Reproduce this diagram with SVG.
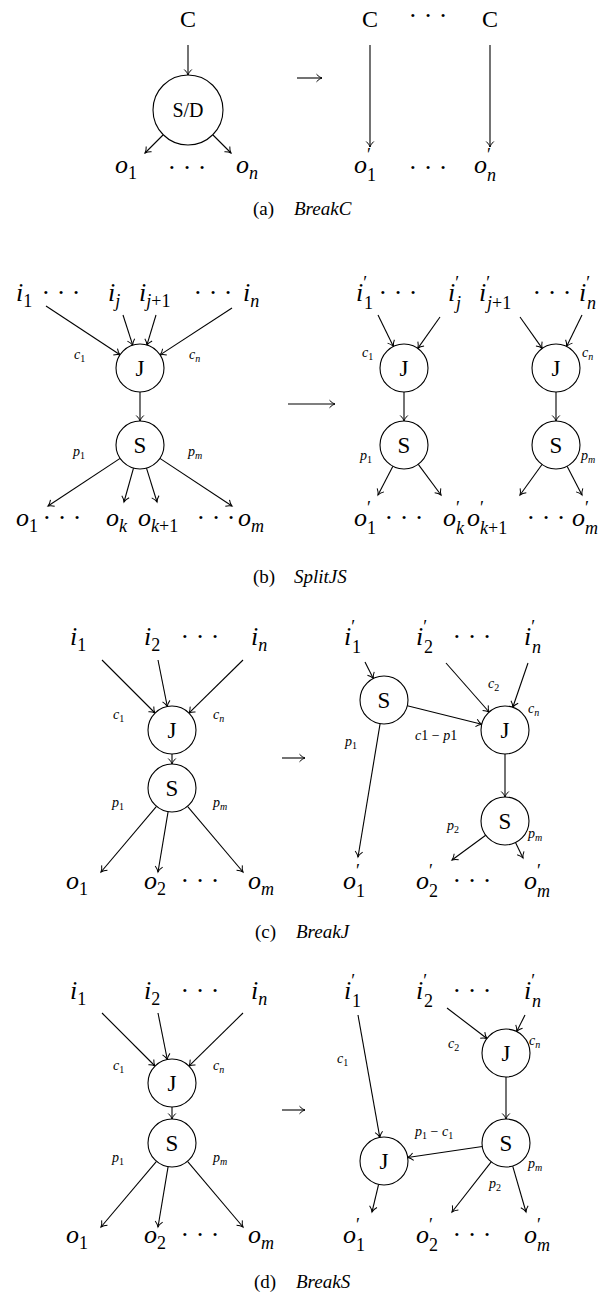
<svg xmlns="http://www.w3.org/2000/svg" width="609" height="1297" viewBox="0 0 609 1297" font-family="'Liberation Serif', serif">
<defs>
<marker id="ah" viewBox="-7 -5 9 10" markerWidth="9" markerHeight="10" refX="0" refY="0" orient="auto" markerUnits="userSpaceOnUse">
<path d="M-5.5,-3.8 C-3.5,-1.6 -1.5,-0.5 0,0 C-1.5,0.5 -3.5,1.6 -5.5,3.8" fill="none" stroke="#000" stroke-width="1"/>
</marker>
<style>
text{font-family:'Liberation Serif','Times New Roman',serif;fill:#000}
.m{font-style:italic;font-size:26px}
.sd{font-style:normal;font-size:18px}
.sl{font-style:italic;font-size:18px}
.pr{font-style:normal;font-size:18px}
.d{font-style:normal;font-size:26px;text-anchor:middle}
.r{font-size:24px;text-anchor:middle}
.n{font-size:23px;text-anchor:middle}
.s{font-style:italic;font-size:14px}
.ss{font-style:normal;font-size:10px}
.ssl{font-style:italic;font-size:10px}
.cap{font-size:19px}
.capi{font-style:italic}
circle{fill:#fff;stroke:#000;stroke-width:1.1}
#conn line{stroke:#000;stroke-width:1.1;fill:none;marker-end:url(#ah)}
</style>
</defs>
<rect width="609" height="1297" fill="#fff"/>

<g id="conn">
<line x1="188" y1="45" x2="188" y2="75"/>
<line x1="163" y1="135" x2="145" y2="153"/>
<line x1="213" y1="135" x2="231" y2="153"/>
<line x1="297" y1="78" x2="322" y2="78"/>
<line x1="370" y1="45" x2="370" y2="147"/>
<line x1="490" y1="45" x2="490" y2="147"/>
<line x1="46" y1="306" x2="120" y2="354.8"/>
<line x1="123" y1="315" x2="132.7" y2="345.2"/>
<line x1="156" y1="315" x2="146.9" y2="345.2"/>
<line x1="232" y1="308" x2="160.1" y2="354.9"/>
<line x1="140" y1="392" x2="140" y2="421"/>
<line x1="120.1" y1="458.4" x2="48" y2="506"/>
<line x1="133.5" y1="468.1" x2="124" y2="502"/>
<line x1="146.5" y1="468.1" x2="157" y2="502"/>
<line x1="159.9" y1="458.4" x2="232" y2="506"/>
<line x1="288" y1="404" x2="335" y2="404"/>
<line x1="378" y1="315" x2="393.4" y2="346.4"/>
<line x1="440" y1="317" x2="417.8" y2="348.4"/>
<line x1="520" y1="317" x2="542.2" y2="348.4"/>
<line x1="582" y1="315" x2="566.6" y2="346.4"/>
<line x1="404" y1="392" x2="404" y2="421"/>
<line x1="556" y1="392" x2="556" y2="421"/>
<line x1="392.9" y1="466.3" x2="378" y2="495"/>
<line x1="418.3" y1="464.3" x2="441" y2="495"/>
<line x1="542" y1="464.5" x2="520" y2="495"/>
<line x1="567.1" y1="466.3" x2="582" y2="495"/>
<line x1="102" y1="660" x2="155" y2="713"/>
<line x1="158" y1="660" x2="167.3" y2="706.5"/>
<line x1="243" y1="660" x2="188.9" y2="713.2"/>
<line x1="172" y1="754" x2="172" y2="764"/>
<line x1="156.5" y1="806.3" x2="101" y2="872"/>
<line x1="168.1" y1="811.7" x2="158" y2="872"/>
<line x1="187.5" y1="806.3" x2="243" y2="872"/>
<line x1="282" y1="758" x2="305" y2="758"/>
<line x1="365" y1="662" x2="373.3" y2="678.5"/>
<line x1="446" y1="663" x2="489.1" y2="712"/>
<line x1="528" y1="663" x2="512.8" y2="707.3"/>
<line x1="407.3" y1="705.8" x2="481.7" y2="724.2"/>
<line x1="380.1" y1="723.7" x2="358" y2="857"/>
<line x1="505" y1="754" x2="505" y2="797"/>
<line x1="485.7" y1="835.2" x2="452" y2="860"/>
<line x1="515.5" y1="842.6" x2="523" y2="858"/>
<line x1="102" y1="1013" x2="155" y2="1066"/>
<line x1="158" y1="1013" x2="167.3" y2="1059.5"/>
<line x1="243" y1="1013" x2="188.9" y2="1066.2"/>
<line x1="172" y1="1107" x2="172" y2="1119"/>
<line x1="156.5" y1="1161.3" x2="101" y2="1227"/>
<line x1="168.1" y1="1166.7" x2="158" y2="1227"/>
<line x1="187.5" y1="1161.3" x2="243" y2="1227"/>
<line x1="282" y1="1110" x2="305" y2="1110"/>
<line x1="358" y1="1015" x2="379.8" y2="1137.4"/>
<line x1="447" y1="1008" x2="486.9" y2="1038.5"/>
<line x1="525" y1="1015" x2="516.7" y2="1031.5"/>
<line x1="506" y1="1077" x2="506" y2="1119"/>
<line x1="482.3" y1="1146.5" x2="407.7" y2="1157.5"/>
<line x1="378.6" y1="1184.4" x2="372" y2="1212"/>
<line x1="491.2" y1="1161.9" x2="452" y2="1212"/>
<line x1="512.7" y1="1166.1" x2="526" y2="1212"/>
</g>

<g id="a-C"><text class="r" x="188" y="27">C</text></g>
<g id="a-SD"><circle cx="188" cy="110" r="35"/><text class="n" x="188" y="117" style="font-size:20px">S/D</text></g>
<g id="a-o1"><text class="m" x="115" y="173">o<tspan class="sd" dy="6">1</tspan></text></g>
<g id="a-dots1"><text class="d" x="187" y="176">· · ·</text></g>
<g id="a-on"><text class="m" x="236" y="173">o<tspan class="sl" dy="6">n</tspan></text></g>
<g id="a-C1"><text class="r" x="370" y="27">C</text></g>
<g id="a-dots2"><text class="d" x="428" y="24">· · ·</text></g>
<g id="a-C2"><text class="r" x="490" y="27">C</text></g>
<g id="a-o1p"><text class="m" x="354" y="173">o<tspan class="pr" dy="-12.5">′</tspan><tspan class="sd" x="367" dy="20">1</tspan></text></g>
<g id="a-dots3"><text class="d" x="428" y="176">· · ·</text></g>
<g id="a-onp"><text class="m" x="474" y="173">o<tspan class="pr" dy="-12.5">′</tspan><tspan class="sl" x="487" dy="20">n</tspan></text></g>
<g id="cap-a"><text class="cap" x="253" y="215">(a)<tspan class="capi" x="294">BreakC</tspan></text></g>

<g id="b-i1"><text class="m" x="16" y="301">i<tspan class="sd" dy="6">1</tspan></text></g>
<g id="b-dl1"><text class="d" x="61" y="301">· · ·</text></g>
<g id="b-ij"><text class="m" x="108" y="301">i<tspan class="sl" dy="6">j</tspan></text></g>
<g id="b-ij1"><text class="m" x="139" y="301">i<tspan class="sl" dy="6">j</tspan><tspan class="sd">+1</tspan></text></g>
<g id="b-dl2"><text class="d" x="213" y="301">· · ·</text></g>
<g id="b-in"><text class="m" x="243" y="301">i<tspan class="sl" dy="6">n</tspan></text></g>
<g id="b-J"><circle cx="140" cy="368" r="24"/><text class="n" x="140" y="376">J</text></g>
<g id="b-S"><circle cx="140" cy="445" r="24"/><text class="n" x="140" y="453">S</text></g>
<g id="b-c1"><text class="s" x="74" y="359">c<tspan class="ss" dy="3">1</tspan></text></g>
<g id="b-cn"><text class="s" x="189" y="359">c<tspan class="ssl" dy="3">n</tspan></text></g>
<g id="b-p1"><text class="s" x="73" y="456">p<tspan class="ss" dy="3">1</tspan></text></g>
<g id="b-pm"><text class="s" x="188" y="456">p<tspan class="ssl" dy="3">m</tspan></text></g>
<g id="b-o1"><text class="m" x="16" y="526">o<tspan class="sd" dy="6">1</tspan></text></g>
<g id="b-dl3"><text class="d" x="62" y="526">· · ·</text></g>
<g id="b-ok"><text class="m" x="106" y="526">o<tspan class="sl" dy="6">k</tspan></text></g>
<g id="b-ok1"><text class="m" x="138" y="526">o<tspan class="sl" dy="6">k</tspan><tspan class="sd">+1</tspan></text></g>
<g id="b-dl4"><text class="d" x="216" y="526">· · ·</text></g>
<g id="b-om"><text class="m" x="238" y="526">o<tspan class="sl" dy="6">m</tspan></text></g>

<g id="b-i1p"><text class="m" x="356" y="301">i<tspan class="pr" dy="-12.5">′</tspan><tspan class="sd" x="364" dy="20">1</tspan></text></g>
<g id="b-dr1"><text class="d" x="398" y="301">· · ·</text></g>
<g id="b-ijp"><text class="m" x="448" y="301">i<tspan class="pr" dy="-12.5">′</tspan><tspan class="sl" x="456" dy="20">j</tspan></text></g>
<g id="b-ij1p"><text class="m" x="479" y="301">i<tspan class="pr" dy="-12.5">′</tspan><tspan class="sl" x="487" dy="20">j</tspan><tspan class="sd">+1</tspan></text></g>
<g id="b-dr2"><text class="d" x="552" y="301">· · ·</text></g>
<g id="b-inp"><text class="m" x="579" y="301">i<tspan class="pr" dy="-12.5">′</tspan><tspan class="sl" x="587" dy="20">n</tspan></text></g>
<g id="b-J1"><circle cx="404" cy="368" r="24"/><text class="n" x="404" y="376">J</text></g>
<g id="b-S1"><circle cx="404" cy="445" r="24"/><text class="n" x="404" y="453">S</text></g>
<g id="b-J2"><circle cx="556" cy="368" r="24"/><text class="n" x="556" y="376">J</text></g>
<g id="b-S2"><circle cx="556" cy="445" r="24"/><text class="n" x="556" y="453">S</text></g>
<g id="b-c1p"><text class="s" x="362" y="357">c<tspan class="ss" dy="3">1</tspan></text></g>
<g id="b-cnp"><text class="s" x="582" y="357">c<tspan class="ssl" dy="3">n</tspan></text></g>
<g id="b-p1p"><text class="s" x="360" y="460">p<tspan class="ss" dy="3">1</tspan></text></g>
<g id="b-pmp"><text class="s" x="581" y="460">p<tspan class="ssl" dy="3">m</tspan></text></g>
<g id="b-o1p"><text class="m" x="354" y="526">o<tspan class="pr" dy="-12.5">′</tspan><tspan class="sd" x="367" dy="20">1</tspan></text></g>
<g id="b-dr3"><text class="d" x="404" y="526">· · ·</text></g>
<g id="b-okp"><text class="m" x="443" y="526">o<tspan class="pr" dy="-12.5">′</tspan><tspan class="sl" x="456" dy="20">k</tspan></text></g>
<g id="b-ok1p"><text class="m" x="467" y="526">o<tspan class="pr" dy="-12.5">′</tspan><tspan class="sl" x="480" dy="20">k</tspan><tspan class="sd">+1</tspan></text></g>
<g id="b-dr4"><text class="d" x="546" y="526">· · ·</text></g>
<g id="b-omp"><text class="m" x="572" y="526">o<tspan class="pr" dy="-12.5">′</tspan><tspan class="sl" x="585" dy="20">m</tspan></text></g>
<g id="cap-b"><text class="cap" x="253" y="583">(b)<tspan class="capi" x="294">SplitJS</tspan></text></g>

<g id="c-i1"><text class="m" x="70" y="645">i<tspan class="sd" dy="6">1</tspan></text></g>
<g id="c-i2"><text class="m" x="144" y="645">i<tspan class="sd" dy="6">2</tspan></text></g>
<g id="c-dl1"><text class="d" x="200" y="645">· · ·</text></g>
<g id="c-in"><text class="m" x="251" y="645">i<tspan class="sl" dy="6">n</tspan></text></g>
<g id="c-J"><circle cx="172" cy="730" r="24"/><text class="n" x="172" y="738">J</text></g>
<g id="c-S"><circle cx="172" cy="788" r="24"/><text class="n" x="172" y="796">S</text></g>
<g id="c-c1"><text class="s" x="113" y="719">c<tspan class="ss" dy="3">1</tspan></text></g>
<g id="c-cn"><text class="s" x="213" y="719">c<tspan class="ssl" dy="3">n</tspan></text></g>
<g id="c-p1"><text class="s" x="112" y="807">p<tspan class="ss" dy="3">1</tspan></text></g>
<g id="c-pm"><text class="s" x="213" y="807">p<tspan class="ssl" dy="3">m</tspan></text></g>
<g id="c-o1"><text class="m" x="66" y="889">o<tspan class="sd" dy="6">1</tspan></text></g>
<g id="c-o2"><text class="m" x="144" y="889">o<tspan class="sd" dy="6">2</tspan></text></g>
<g id="c-dl2"><text class="d" x="200" y="889">· · ·</text></g>
<g id="c-om"><text class="m" x="248" y="889">o<tspan class="sl" dy="6">m</tspan></text></g>

<g id="c-i1p"><text class="m" x="344" y="645">i<tspan class="pr" dy="-12.5">′</tspan><tspan class="sd" x="352" dy="20">1</tspan></text></g>
<g id="c-i2p"><text class="m" x="416" y="645">i<tspan class="pr" dy="-12.5">′</tspan><tspan class="sd" x="424" dy="20">2</tspan></text></g>
<g id="c-dr1"><text class="d" x="472" y="645">· · ·</text></g>
<g id="c-inp"><text class="m" x="524" y="645">i<tspan class="pr" dy="-12.5">′</tspan><tspan class="sl" x="532" dy="20">n</tspan></text></g>
<g id="c-S1"><circle cx="384" cy="700" r="24"/><text class="n" x="384" y="708">S</text></g>
<g id="c-J1"><circle cx="505" cy="730" r="24"/><text class="n" x="505" y="738">J</text></g>
<g id="c-S2"><circle cx="505" cy="821" r="24"/><text class="n" x="505" y="829">S</text></g>
<g id="c-c2"><text class="s" x="488" y="688">c<tspan class="ss" dy="3">2</tspan></text></g>
<g id="c-cnp"><text class="s" x="528" y="713">c<tspan class="ssl" dy="3">n</tspan></text></g>
<g id="c-c1p1"><text class="s" x="415" y="740">c<tspan style="font-style:normal">1 − </tspan>p<tspan style="font-style:normal">1</tspan></text></g>
<g id="c-p1p"><text class="s" x="345" y="746">p<tspan class="ss" dy="3">1</tspan></text></g>
<g id="c-p2"><text class="s" x="447" y="830">p<tspan class="ss" dy="3">2</tspan></text></g>
<g id="c-pmp"><text class="s" x="528" y="838">p<tspan class="ssl" dy="3">m</tspan></text></g>
<g id="c-o1p"><text class="m" x="343" y="889">o<tspan class="pr" dy="-12.5">′</tspan><tspan class="sd" x="356" dy="20">1</tspan></text></g>
<g id="c-o2p"><text class="m" x="416" y="889">o<tspan class="pr" dy="-12.5">′</tspan><tspan class="sd" x="429" dy="20">2</tspan></text></g>
<g id="c-dr2"><text class="d" x="472" y="889">· · ·</text></g>
<g id="c-omp"><text class="m" x="524" y="889">o<tspan class="pr" dy="-12.5">′</tspan><tspan class="sl" x="537" dy="20">m</tspan></text></g>
<g id="cap-c"><text class="cap" x="255" y="938">(c)<tspan class="capi" x="296">BreakJ</tspan></text></g>

<g id="d-i1"><text class="m" x="70" y="999">i<tspan class="sd" dy="6">1</tspan></text></g>
<g id="d-i2"><text class="m" x="144" y="999">i<tspan class="sd" dy="6">2</tspan></text></g>
<g id="d-dl1"><text class="d" x="200" y="999">· · ·</text></g>
<g id="d-in"><text class="m" x="251" y="999">i<tspan class="sl" dy="6">n</tspan></text></g>
<g id="d-J"><circle cx="172" cy="1083" r="24"/><text class="n" x="172" y="1091">J</text></g>
<g id="d-S"><circle cx="172" cy="1143" r="24"/><text class="n" x="172" y="1151">S</text></g>
<g id="d-c1"><text class="s" x="113" y="1070">c<tspan class="ss" dy="3">1</tspan></text></g>
<g id="d-cn"><text class="s" x="213" y="1070">c<tspan class="ssl" dy="3">n</tspan></text></g>
<g id="d-p1"><text class="s" x="112" y="1162">p<tspan class="ss" dy="3">1</tspan></text></g>
<g id="d-pm"><text class="s" x="213" y="1162">p<tspan class="ssl" dy="3">m</tspan></text></g>
<g id="d-o1"><text class="m" x="66" y="1243">o<tspan class="sd" dy="6">1</tspan></text></g>
<g id="d-o2"><text class="m" x="144" y="1243">o<tspan class="sd" dy="6">2</tspan></text></g>
<g id="d-dl2"><text class="d" x="200" y="1243">· · ·</text></g>
<g id="d-om"><text class="m" x="248" y="1243">o<tspan class="sl" dy="6">m</tspan></text></g>

<g id="d-i1p"><text class="m" x="344" y="999">i<tspan class="pr" dy="-12.5">′</tspan><tspan class="sd" x="352" dy="20">1</tspan></text></g>
<g id="d-i2p"><text class="m" x="416" y="999">i<tspan class="pr" dy="-12.5">′</tspan><tspan class="sd" x="424" dy="20">2</tspan></text></g>
<g id="d-dr1"><text class="d" x="472" y="999">· · ·</text></g>
<g id="d-inp"><text class="m" x="524" y="999">i<tspan class="pr" dy="-12.5">′</tspan><tspan class="sl" x="532" dy="20">n</tspan></text></g>
<g id="d-J1"><circle cx="506" cy="1053" r="24"/><text class="n" x="506" y="1061">J</text></g>
<g id="d-S1"><circle cx="506" cy="1143" r="24"/><text class="n" x="506" y="1151">S</text></g>
<g id="d-J2"><circle cx="384" cy="1161" r="24"/><text class="n" x="384" y="1169">J</text></g>
<g id="d-c1p"><text class="s" x="337" y="1063">c<tspan class="ss" dy="3">1</tspan></text></g>
<g id="d-c2"><text class="s" x="448" y="1048">c<tspan class="ss" dy="3">2</tspan></text></g>
<g id="d-cnp"><text class="s" x="529" y="1045">c<tspan class="ssl" dy="3">n</tspan></text></g>
<g id="d-p1c1"><text class="s" x="415" y="1136">p<tspan class="ss" dy="3">1</tspan><tspan style="font-style:normal" dy="-3"> − </tspan>c<tspan class="ss" dy="3">1</tspan></text></g>
<g id="d-pmp"><text class="s" x="528" y="1168">p<tspan class="ssl" dy="3">m</tspan></text></g>
<g id="d-p2"><text class="s" x="489" y="1188">p<tspan class="ss" dy="3">2</tspan></text></g>
<g id="d-o1p"><text class="m" x="343" y="1243">o<tspan class="pr" dy="-12.5">′</tspan><tspan class="sd" x="356" dy="20">1</tspan></text></g>
<g id="d-o2p"><text class="m" x="416" y="1243">o<tspan class="pr" dy="-12.5">′</tspan><tspan class="sd" x="429" dy="20">2</tspan></text></g>
<g id="d-dr2"><text class="d" x="472" y="1243">· · ·</text></g>
<g id="d-omp"><text class="m" x="524" y="1243">o<tspan class="pr" dy="-12.5">′</tspan><tspan class="sl" x="537" dy="20">m</tspan></text></g>
<g id="cap-d"><text class="cap" x="254" y="1288">(d)<tspan class="capi" x="296">BreakS</tspan></text></g>
</svg>
